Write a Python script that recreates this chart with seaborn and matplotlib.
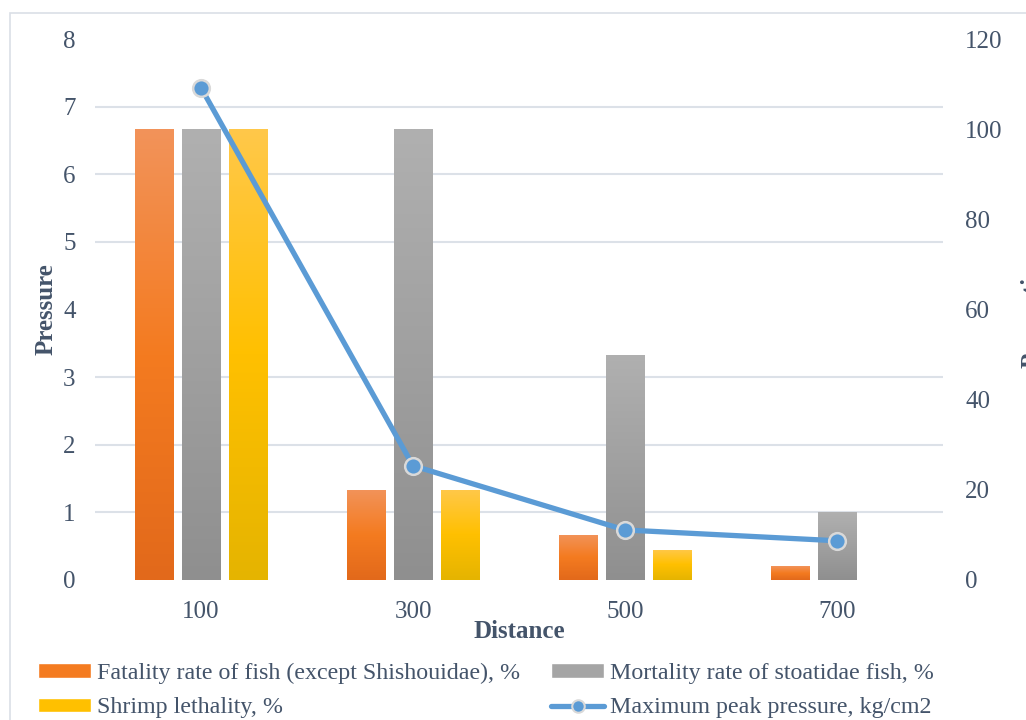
import numpy as np
import pandas as pd
import seaborn as sns
import matplotlib
matplotlib.use('Agg')
import matplotlib.pyplot as plt
from matplotlib.colors import LinearSegmentedColormap
from matplotlib.patches import Patch, Rectangle
from matplotlib.lines import Line2D

# donnees
distance = ['100', '300', '500', '700']
fatality = [100, 20, 10, 3]
stoatidae = [100, 100, 50, 15]
shrimp = [100, 20, 6.7, 0]
pressure = [7.28, 1.69, 0.74, 0.58]

series_names = ['Fatality rate of fish (except Shishouidae), %',
                'Mortality rate of stoatidae fish, %',
                'Shrimp lethality, %']
line_name = 'Maximum peak pressure, kg/cm2'

colors = ['#F47B20', '#A5A5A5', '#FFC000']
grads = [['#E2691B', '#F47B20', '#F2935A'],
         ['#8F8F8F', '#A0A0A0', '#B0B0B0'],
         ['#E5B400', '#FFC000', '#FFC84A']]
line_color = '#5B9BD5'
text_color = '#44546A'
grid_color = '#DCE1E8'
serif = ['Liberation Serif', 'DejaVu Serif']

df = pd.DataFrame({
    'Distance': distance * 3,
    'Proportion': fatality + stoatidae + shrimp,
    'Serie': [s for s in series_names for _ in distance],
})

sns.set_theme(style='white')
plt.rcParams['font.family'] = serif
plt.rcParams['text.color'] = text_color

fig = plt.figure(figsize=(10.26, 7.2), dpi=100)
ax = fig.add_axes([95 / 1026, 1 - 580 / 720, (943 - 95) / 1026, (580 - 39) / 720])
ax2 = ax.twinx()

# barres sur l'axe de droite
sns.barplot(data=df, x='Distance', y='Proportion', hue='Serie', hue_order=series_names,
            palette=colors, width=0.664, gap=0.19, ax=ax2, legend=False,
            saturation=1, linewidth=0, err_kws={'linewidth': 0})

# degradé dans chaque barre
for cont, stops in zip(ax2.containers, grads):
    cmap = LinearSegmentedColormap.from_list('g', stops)
    for bar in cont:
        h = bar.get_height()
        if h <= 0:
            continue
        x0 = bar.get_x()
        w = bar.get_width()
        img = ax2.imshow(np.linspace(0, 1, 256).reshape(-1, 1), cmap=cmap, origin='lower',
                         extent=[x0, x0 + w, 0, h], aspect='auto', zorder=2)
        img.set_clip_path(bar)
        bar.set_facecolor('none')

# courbe de pression sur l'axe de gauche
sns.pointplot(x=distance, y=pressure, ax=ax, color=line_color, markers='o',
              markersize=12, linewidth=3.8, markeredgecolor='#D9D9D9', markeredgewidth=1.8)

ax.set_zorder(ax2.get_zorder() + 1)
ax.patch.set_visible(False)

ax.set_xlim(-0.5, 3.5)
ax.set_ylim(0, 8)
ax2.set_ylim(0, 120)
ax.set_yticks(range(0, 9))
ax2.set_yticks(range(0, 121, 20))
ax2.set_yticks(np.arange(0, 121, 15), minor=True)
ax2.set_axisbelow(True)
ax2.grid(which='minor', axis='y', color=grid_color, linewidth=1.5)
ax2.grid(which='major', visible=False)
ax.grid(False)

for a in (ax, ax2):
    for s in a.spines.values():
        s.set_visible(False)
    a.tick_params(length=0, which='both', labelsize=18, labelcolor=text_color)
ax.tick_params(axis='y', pad=14)
ax.tick_params(axis='x', pad=15)
ax2.tick_params(axis='y', pad=16)
ax2.set_ylabel('')
ax2.set_xlabel('')

ax.set_xlabel('Distance', fontsize=18, fontweight='bold', color=text_color, labelpad=-2)
ax.set_ylabel('Pressure', fontsize=18, fontweight='bold', color=text_color, labelpad=4)
fig.text(1021 / 1026, 1 - 309 / 720, 'Proportion', rotation=90, ha='left', va='center',
         fontsize=18, fontweight='bold', color=text_color)

# cadre de la zone du graphique
fig.patches.append(Rectangle((10 / 1026, -0.1), 1.2, 1 - 13 / 720 + 0.1, transform=fig.transFigure,
                             fill=False, edgecolor='#DADFE6', linewidth=1.2))

handles = [Patch(facecolor=colors[0]), Patch(facecolor=colors[2]),
           Patch(facecolor=colors[1]),
           Line2D([], [], color=line_color, linewidth=3.8, marker='o', markersize=9,
                  markeredgecolor='#D9D9D9', markeredgewidth=1.5)]
labels = [series_names[0], series_names[2], series_names[1], line_name]
fig.legend(handles, labels, loc='upper left', bbox_to_anchor=(38 / 1026, 1 - 663 / 720),
           ncol=2, frameon=False, prop={'family': serif, 'size': 17.3}, handlelength=2.2,
           handleheight=0.55, handletextpad=0.25, columnspacing=1.3, labelspacing=0.55,
           borderpad=0, borderaxespad=0, labelcolor=text_color)

fig.savefig('out.png', dpi=100)
